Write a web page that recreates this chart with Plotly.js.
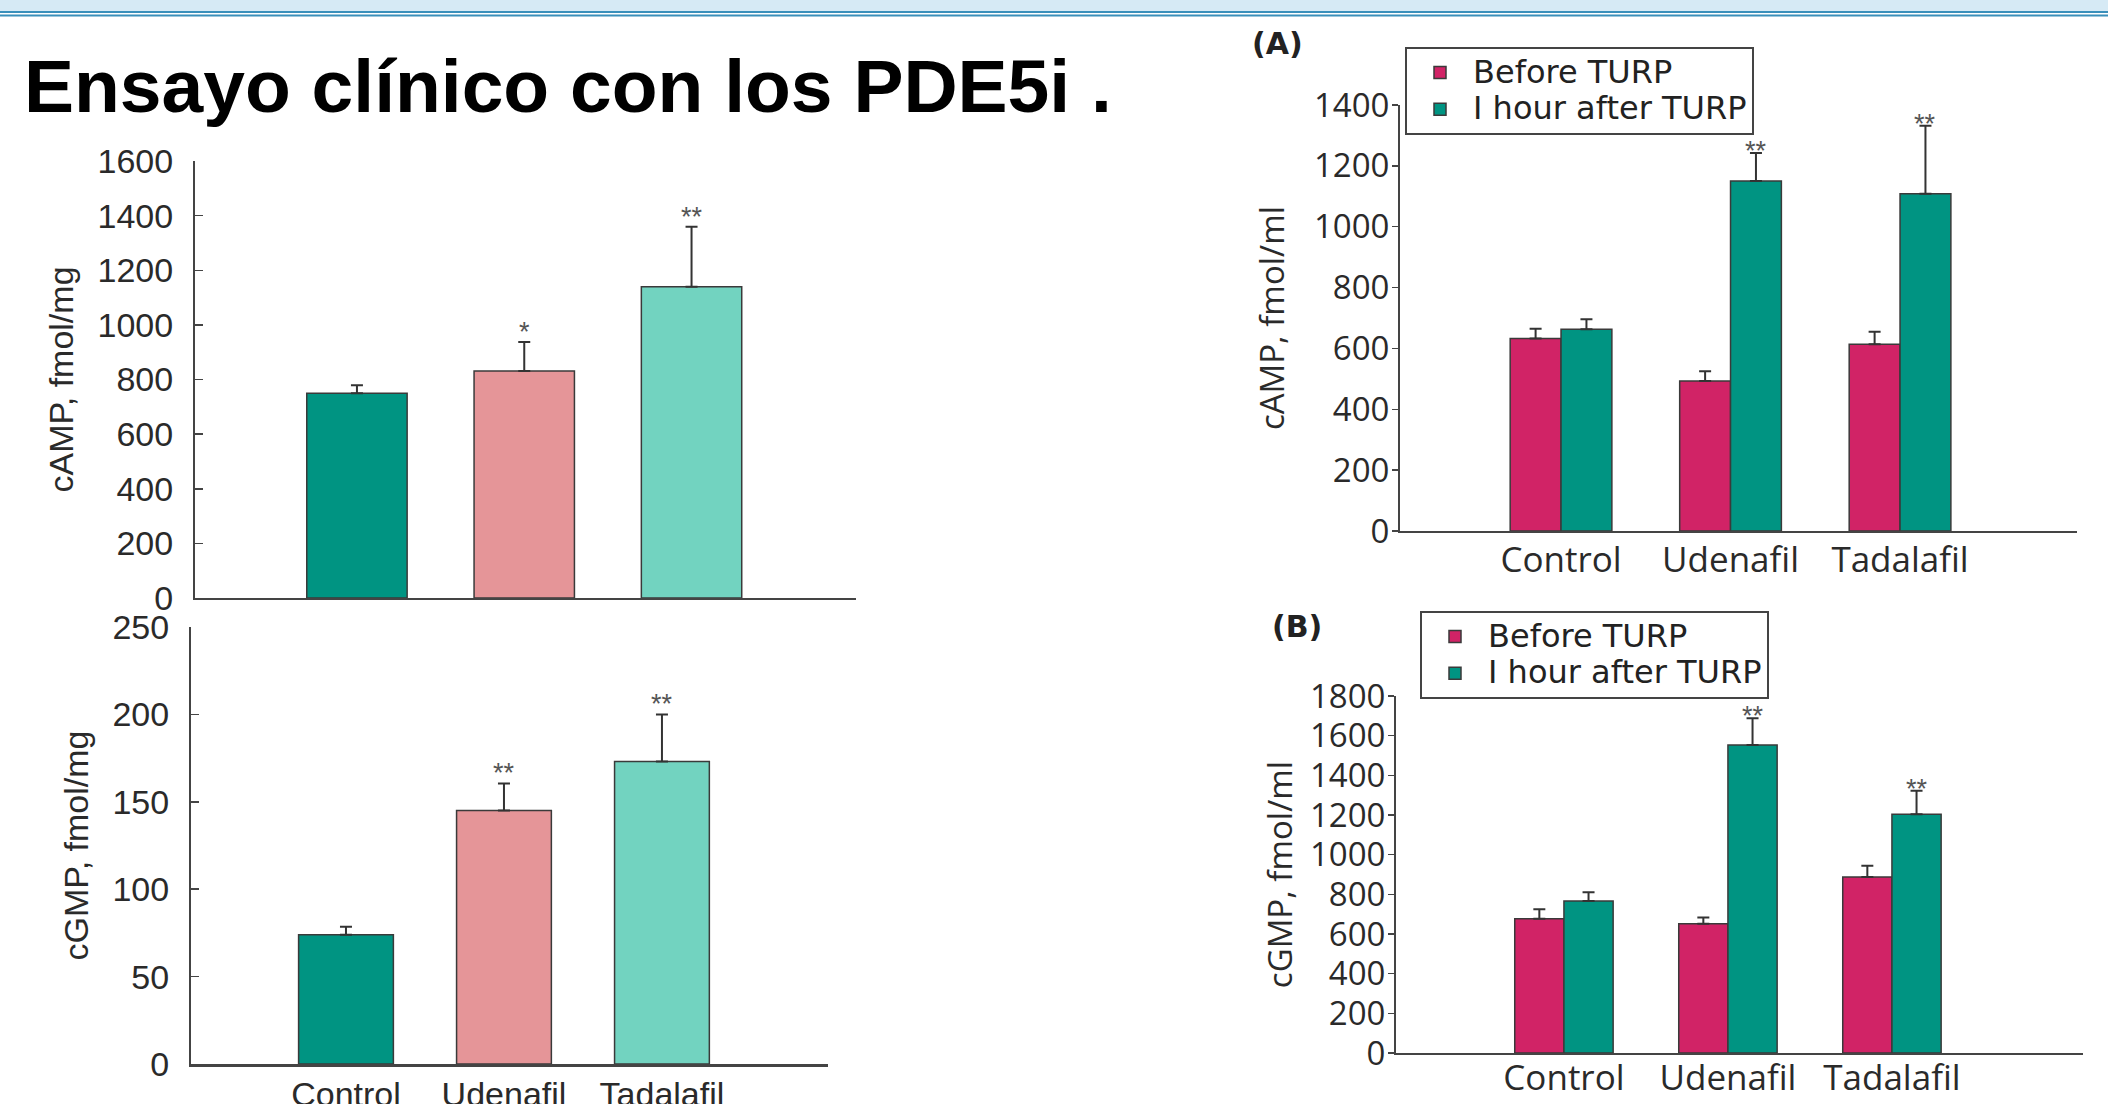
<!DOCTYPE html>
<html><head><meta charset="utf-8">
<script src="https://cdn.plot.ly/plotly-3.0.1.min.js"></script>
<style>html,body{margin:0;padding:0;background:#fff;overflow:hidden;} #chart{width:2108px;height:1104px;}</style>
</head><body><div id="chart"></div>
<script>
// ---- data ----
const categories = ['Control', 'Udenafil', 'Tadalafil'];
const tissueColors = ['#009482', '#e59598', '#72d3c0'];
const tissueCamp = [750, 831, 1140];
const tissueCampSd = [29, 106, 219];
const tissueCampSig = ['', '*', '**'];
const tissueCgmp = [74, 145, 173];
const tissueCgmpSd = [4.5, 15.5, 27];
const tissueCgmpSig = ['', '**', '**'];

const seriesNames = ['Before TURP', 'I hour after TURP'];
const seriesColors = ['#d12366', '#009482'];
const plasmaCampBefore = [633, 493, 614];
const plasmaCampBeforeSd = [32, 32, 41];
const plasmaCampAfter = [663, 1150, 1108];
const plasmaCampAfterSd = [33, 92, 224];
const plasmaCampSig = ['', '**', '**'];
const plasmaCgmpBefore = [677, 652, 887];
const plasmaCgmpBeforeSd = [48, 31, 57];
const plasmaCgmpAfter = [767, 1553, 1204];
const plasmaCgmpAfterSd = [44, 135, 118];
const plasmaCgmpSig = ['', '**', '**'];

const titleText = 'Ensayo clínico con los PDE5i .';
const yTitles = ['cAMP, fmol/mg', 'cGMP, fmol/mg', 'cAMP, fmol/ml', 'cGMP, fmol/ml'];
const panelLabels = ['(A)', '(B)'];

// ---- styles ----
const W = 2108, H = 1104;
const px = v => v / W;
const py = v => 1 - v / H;
const BARGAP = 0.4;
const outline = {color: '#3a3a3a', width: 1.5};
const leftFont = {family: 'Liberation Sans, Arial, sans-serif', size: 34, color: '#2a2a2a'};
const rightFont = {family: 'Open Sans, Noto Sans, sans-serif', size: 33, color: '#2a2a2a'};
const rightXFont = {family: 'Open Sans, Noto Sans, sans-serif', size: 35, color: '#2a2a2a'};
// smaller base size keeps the legend rows compact; the names are drawn larger via span
const legendFont = {family: 'DejaVu Sans, sans-serif', size: 26, color: '#222'};
const legendName = s => '<span style="font-size:32px">' + s + '</span>';
const zeros = a => a.map(() => 0);
const err = sd => ({type: 'data', symmetric: false, array: sd, arrayminus: zeros(sd), color: '#333', thickness: 2, width: 6});

const traces = [
  {type: 'bar', x: categories, y: tissueCamp, xaxis: 'x', yaxis: 'y', showlegend: false,
   marker: {color: tissueColors, line: outline}, error_y: err(tissueCampSd)},
  {type: 'bar', x: categories, y: tissueCgmp, xaxis: 'x2', yaxis: 'y2', showlegend: false,
   marker: {color: tissueColors, line: outline}, error_y: err(tissueCgmpSd)},
  {type: 'bar', name: legendName(seriesNames[0]), x: categories, y: plasmaCampBefore, xaxis: 'x3', yaxis: 'y3', legend: 'legend',
   marker: {color: seriesColors[0], line: outline}, error_y: err(plasmaCampBeforeSd)},
  {type: 'bar', name: legendName(seriesNames[1]), x: categories, y: plasmaCampAfter, xaxis: 'x3', yaxis: 'y3', legend: 'legend',
   marker: {color: seriesColors[1], line: outline}, error_y: err(plasmaCampAfterSd)},
  {type: 'bar', name: legendName(seriesNames[0]), x: categories, y: plasmaCgmpBefore, xaxis: 'x4', yaxis: 'y4', legend: 'legend2',
   marker: {color: seriesColors[0], line: outline}, error_y: err(plasmaCgmpBeforeSd)},
  {type: 'bar', name: legendName(seriesNames[1]), x: categories, y: plasmaCgmpAfter, xaxis: 'x4', yaxis: 'y4', legend: 'legend2',
   marker: {color: seriesColors[1], line: outline}, error_y: err(plasmaCgmpAfterSd)}
];

// significance marks
const annotations = [];
const sigFont = {family: 'Liberation Sans, Arial, sans-serif', size: 27, color: '#555'};
function addSig(sig, vals, sds, xref, yref, offset, shift) {
  sig.forEach((s, i) => {
    if (!s) return;
    annotations.push({xref, yref, x: i + offset, y: vals[i] + sds[i], text: s, showarrow: false,
      yanchor: 'bottom', yshift: shift, font: sigFont});
  });
}
const grpOff = (1 - BARGAP) / 4;
addSig(tissueCampSig, tissueCamp, tissueCampSd, 'x', 'y', 0, -7);
addSig(tissueCgmpSig, tissueCgmp, tissueCgmpSd, 'x2', 'y2', 0, -7);
addSig(plasmaCampSig, plasmaCampAfter, plasmaCampAfterSd, 'x3', 'y3', grpOff, -15);
addSig(plasmaCgmpSig, plasmaCgmpAfter, plasmaCgmpAfterSd, 'x4', 'y4', grpOff, -15);

annotations.push({xref: 'paper', yref: 'paper', x: px(22), y: py(85.5), xanchor: 'left', yanchor: 'middle',
  text: '<b>' + titleText + '</b>', showarrow: false,
  font: {family: 'Liberation Sans, Arial, sans-serif', size: 75, color: '#000'}});
const panelFont = {family: 'DejaVu Sans, sans-serif', size: 30, color: '#222', weight: 'bold'};
annotations.push({xref: 'paper', yref: 'paper', x: px(1277), y: py(44), xanchor: 'center', yanchor: 'middle',
  text: panelLabels[0], showarrow: false, font: panelFont});
annotations.push({xref: 'paper', yref: 'paper', x: px(1297), y: py(626), xanchor: 'center', yanchor: 'middle',
  text: panelLabels[1], showarrow: false, font: panelFont});

function xAxis(dom, range, font, showLabels, lw, standoff) {
  return {domain: dom, range: range, type: 'category', showline: true, linecolor: '#444', linewidth: lw,
    ticks: '', showgrid: false, zeroline: false, showticklabels: showLabels, tickfont: font,
    ticklabelstandoff: standoff, fixedrange: true, automargin: false};
}
function yAxis(dom, range, dtick, font, anchor, ticks, tlen, labelStand, title, titleFont, titleStand) {
  return {domain: dom, range: range, dtick: dtick, tick0: 0, anchor: anchor, showline: true, linecolor: '#444',
    linewidth: 2, ticks: ticks, ticklen: tlen, tickwidth: 1.5, tickcolor: '#444', showgrid: false, zeroline: false,
    tickfont: font, ticklabelstandoff: labelStand, fixedrange: true, automargin: false,
    title: {text: title, font: titleFont, standoff: titleStand}};
}

const layout = {
  width: W, height: H,
  margin: {l: 0, r: 0, t: 0, b: 0},
  paper_bgcolor: '#fff', plot_bgcolor: 'rgba(0,0,0,0)',
  barmode: 'group', bargap: BARGAP, bargroupgap: 0,
  xaxis: xAxis([px(195), px(856)], [-0.968, 2.983], leftFont, false, 2, 0),
  yaxis: yAxis([py(598), py(161)], [0, 1600], 200, leftFont, 'x', 'inside', 8, 13, yTitles[0], leftFont, 14),
  xaxis2: Object.assign(xAxis([px(191), px(828)], [-0.981, 3.051], leftFont, true, 3, -2), {anchor: 'y2'}),
  yaxis2: yAxis([py(1064), py(627)], [0, 250], 50, leftFont, 'x2', 'inside', 8, 13, yTitles[1], leftFont, 14),
  xaxis3: Object.assign(xAxis([px(1400), px(2077)], [-0.95, 3.044], rightXFont, true, 2, -3), {anchor: 'y3'}),
  yaxis3: yAxis([py(531), py(105)], [0, 1400], 200, rightFont, 'x3', 'outside', 6, -4, yTitles[2], rightFont, 19),
  xaxis4: Object.assign(xAxis([px(1396), px(2083)], [-1.024, 3.165], rightXFont, true, 2, -7), {anchor: 'y4'}),
  yaxis4: yAxis([py(1053), py(696)], [0, 1800], 200, rightFont, 'x4', 'outside', 6, -4, yTitles[3], rightFont, 7),
  legend: {x: px(1405), y: py(47), xanchor: 'left', yanchor: 'top', bordercolor: '#444', borderwidth: 2,
    bgcolor: '#fff', font: legendFont, itemwidth: 56, tracegroupgap: 0},
  legend2: {x: px(1420), y: py(611), xanchor: 'left', yanchor: 'top', bordercolor: '#444', borderwidth: 2,
    bgcolor: '#fff', font: legendFont, itemwidth: 56, tracegroupgap: 0},
  annotations: annotations,
  shapes: [
    {type: 'rect', xref: 'paper', yref: 'paper', x0: 0, x1: 1, y0: py(11), y1: 1, fillcolor: '#d6eaf5', line: {width: 0}, layer: 'below'},
    {type: 'line', xref: 'paper', yref: 'paper', x0: 0, x1: 1, y0: py(12), y1: py(12), line: {color: '#3a8fba', width: 2}},
    {type: 'line', xref: 'paper', yref: 'paper', x0: 0, x1: 1, y0: py(15.5), y1: py(15.5), line: {color: '#3a8fba', width: 2}}
  ],
  showlegend: true
};

Plotly.newPlot('chart', traces, layout, {displayModeBar: false, staticPlot: true});
</script>
</body></html>
